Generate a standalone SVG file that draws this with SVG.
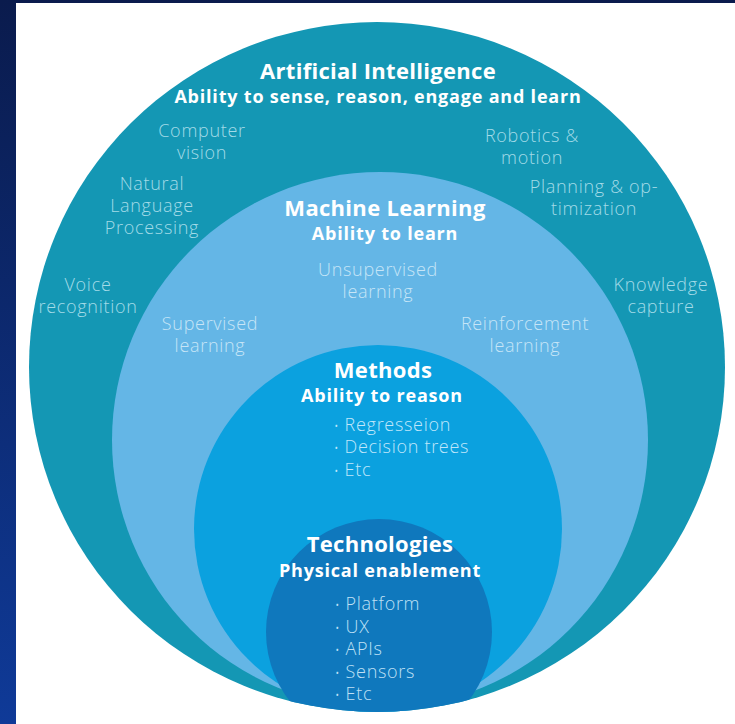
<svg xmlns="http://www.w3.org/2000/svg" width="735" height="724" viewBox="0 0 735 724">
  <defs>
    <linearGradient id="frame" x1="0" y1="0" x2="0" y2="1">
      <stop offset="0" stop-color="#0a1b4d"/>
      <stop offset="1" stop-color="#0f3a98"/>
    </linearGradient>
    <clipPath id="outerClip">
      <ellipse cx="377" cy="367" rx="348" ry="345"/>
    </clipPath>
    <style>
      text { font-family: "Open Sans", "Liberation Sans", sans-serif; text-anchor: middle; }
      .title { font-weight: 700; font-size: 22px; letter-spacing: 0.3px; fill: #ffffff; }
      .sub { font-weight: 700; font-size: 18px; letter-spacing: 0.8px; fill: #ffffff; }
      .item { font-weight: 300; font-size: 18px; letter-spacing: 0.7px; }
      .ai { fill: #a3dbe8; }
      .ml { fill: #c6e5f7; }
      .mt { fill: #c0e7fb; text-anchor: start; }
      .tc { fill: #bfe0f5; text-anchor: start; }
      .dot { font-size: 12px; }
    </style>
  </defs>

  <!-- frame and white panel -->
  <rect x="0" y="0" width="735" height="724" fill="url(#frame)"/>
  <rect x="16" y="3" width="719" height="721" fill="#ffffff"/>

  <!-- nested layers, all held inside the outer ring -->
  <g id="artificial-intelligence">
    <ellipse cx="377" cy="367" rx="348" ry="345" fill="#1497b4"/>
  </g>
  <g id="machine-learning" clip-path="url(#outerClip)">
    <circle cx="380" cy="440" r="268" fill="#64b6e6"/>
  </g>
  <g id="methods" clip-path="url(#outerClip)">
    <circle cx="378" cy="529" r="184" fill="#0ba1df"/>
  </g>
  <g id="technologies" clip-path="url(#outerClip)">
    <circle cx="379" cy="632" r="113" fill="#0f78bd"/>
  </g>

  <!-- labels: outer ring -->
  <g id="ai-labels">
    <text class="title" x="378" y="79">Artificial Intelligence</text>
    <text class="sub" x="378" y="103">Ability to sense, reason, engage and learn</text>
    <text class="item ai"><tspan x="202" y="137">Computer</tspan><tspan x="202" y="159">vision</tspan></text>
    <text class="item ai"><tspan x="532" y="142">Robotics &amp;</tspan><tspan x="532" y="164">motion</tspan></text>
    <text class="item ai"><tspan x="152" y="190">Natural</tspan><tspan x="152" y="212">Language</tspan><tspan x="152" y="234">Processing</tspan></text>
    <text class="item ai"><tspan x="594" y="193">Planning &amp; op-</tspan><tspan x="594" y="215">timization</tspan></text>
    <text class="item ai"><tspan x="88" y="291">Voice</tspan><tspan x="88" y="313">recognition</tspan></text>
    <text class="item ai"><tspan x="661" y="291">Knowledge</tspan><tspan x="661" y="313">capture</tspan></text>
  </g>

  <g id="ml-labels">
    <text class="title" x="385" y="216">Machine Learning</text>
    <text class="sub" x="385" y="240">Ability to learn</text>
    <text class="item ml"><tspan x="378" y="276">Unsupervised</tspan><tspan x="378" y="298">learning</tspan></text>
    <text class="item ml"><tspan x="210" y="330">Supervised</tspan><tspan x="210" y="352">learning</tspan></text>
    <text class="item ml"><tspan x="525" y="330">Reinforcement</tspan><tspan x="525" y="352">learning</tspan></text>
  </g>

  <g id="methods-labels">
    <text class="title" x="383" y="378">Methods</text>
    <text class="sub" x="382" y="402">Ability to reason</text>
    <text class="item mt" x="334" y="431"><tspan class="dot">•</tspan> Regresseion</text>
    <text class="item mt" x="334" y="453"><tspan class="dot">•</tspan> Decision trees</text>
    <text class="item mt" x="334" y="476"><tspan class="dot">•</tspan> Etc</text>
  </g>

  <g id="technologies-labels">
    <text class="title" x="380" y="552">Technologies</text>
    <text class="sub" x="380" y="577">Physical enablement</text>
    <text class="item tc" x="335" y="610"><tspan class="dot">•</tspan> Platform</text>
    <text class="item tc" x="335" y="633"><tspan class="dot">•</tspan> UX</text>
    <text class="item tc" x="335" y="655"><tspan class="dot">•</tspan> APIs</text>
    <text class="item tc" x="335" y="678"><tspan class="dot">•</tspan> Sensors</text>
    <text class="item tc" x="335" y="700"><tspan class="dot">•</tspan> Etc</text>
  </g>

  <!-- no connectors in this figure -->
  <g id="connectors"/>
</svg>
